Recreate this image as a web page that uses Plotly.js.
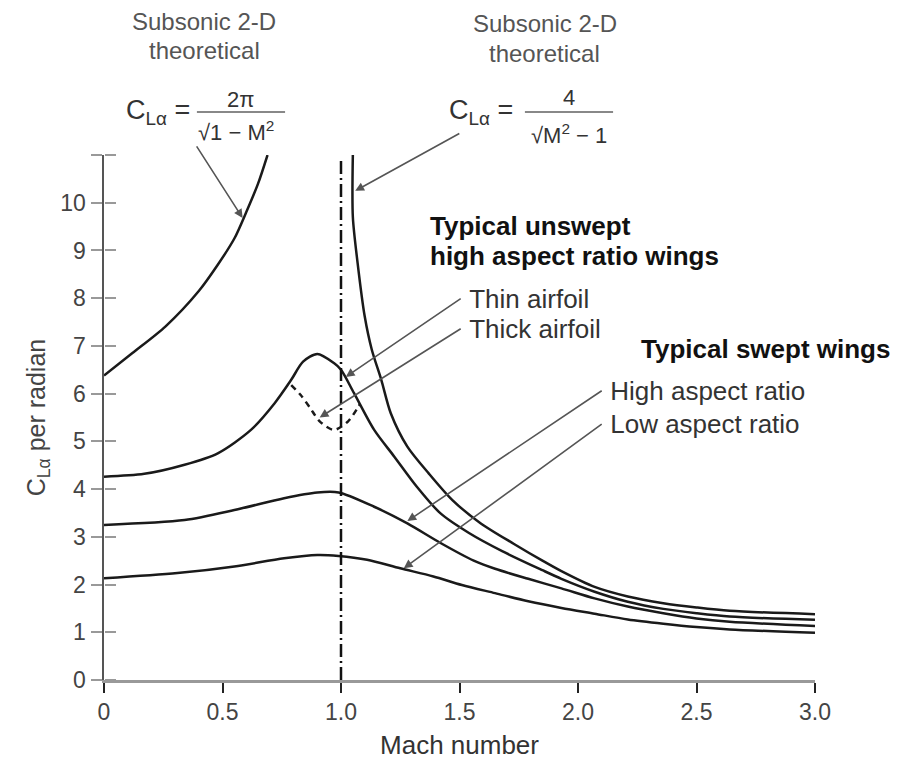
<!DOCTYPE html>
<html>
<head>
<meta charset="utf-8">
<script src="https://cdn.plot.ly/plotly-3.0.1.min.js"></script>
<style>html,body{margin:0;padding:0;background:#fff;}#chart{width:907px;height:762px;}</style>
</head>
<body>
<div id="chart"></div>
<script>
// ---- Data ----
const subTheoryM = [0, 0.12, 0.26, 0.40, 0.48, 0.55, 0.60, 0.65, 0.69];
const subTheoryC = [6.38, 6.85, 7.41, 8.15, 8.70, 9.25, 9.80, 10.40, 11.0];

const supTheoryM = [1.05, 1.05, 1.07, 1.10, 1.13, 1.17, 1.21, 1.28, 1.37, 1.47, 1.59, 1.73, 1.85, 1.93, 2.07, 2.21, 2.36, 2.50, 2.64, 3.0];
const supTheoryC = [11.0, 9.7, 8.74, 7.62, 6.92, 6.29, 5.59, 4.89, 4.33, 3.77, 3.28, 2.85, 2.50, 2.28, 1.95, 1.75, 1.61, 1.52, 1.45, 1.38];

const thinM = [0, 0.17, 0.34, 0.48, 0.62, 0.72, 0.79, 0.84, 0.90, 0.97, 1.0, 1.055, 1.14, 1.225, 1.32, 1.42, 1.54, 1.68, 1.85, 1.93, 2.07, 2.21, 2.36, 2.50, 2.64, 3.0];
const thinC = [4.26, 4.32, 4.51, 4.75, 5.24, 5.8, 6.29, 6.67, 6.83, 6.64, 6.5, 6.01, 5.24, 4.68, 4.05, 3.49, 3.08, 2.70, 2.30, 2.12, 1.85, 1.64, 1.49, 1.40, 1.33, 1.26];

const thickM = [0.79, 0.83, 0.87, 0.91, 0.97, 1.03, 1.07, 1.08];
const thickC = [6.18, 5.97, 5.70, 5.42, 5.24, 5.42, 5.70, 5.78];

const sweptHighM = [0, 0.34, 0.55, 0.76, 0.90, 0.99, 1.14, 1.28, 1.42, 1.56, 1.65, 1.79, 1.93, 2.07, 2.21, 2.36, 2.50, 2.64, 3.0];
const sweptHighC = [3.25, 3.35, 3.56, 3.81, 3.93, 3.93, 3.63, 3.28, 2.87, 2.50, 2.33, 2.12, 1.92, 1.71, 1.54, 1.40, 1.29, 1.22, 1.13];

const sweptLowM = [0, 0.31, 0.55, 0.76, 0.90, 0.99, 1.11, 1.25, 1.39, 1.51, 1.65, 1.79, 1.93, 2.07, 2.21, 2.36, 2.50, 2.64, 3.0];
const sweptLowC = [2.13, 2.24, 2.38, 2.55, 2.62, 2.60, 2.52, 2.34, 2.17, 1.99, 1.82, 1.65, 1.51, 1.39, 1.27, 1.18, 1.11, 1.06, 0.99];

const machLineM = [1.0, 1.0];
const machLineC = [0, 10.9];

const xTickVals = [0, 0.5, 1.0, 1.5, 2.0, 2.5, 3.0];
const xTickText = ['0', '0.5', '1.0', '1.5', '2.0', '2.5', '3.0'];
const yTickVals = [0, 1, 2, 3, 4, 5, 6, 7, 8, 9, 10, 11];
const yTickText = ['0', '1', '2', '3', '4', '5', '6', '7', '8', '9', '10', ''];

// ---- Styles ----
const FONT = 'Liberation Sans, Arial, sans-serif';
const lineStyle = {color: '#1a1a1a', width: 2.5, shape: 'spline', smoothing: 0.8};

function curve(x, y, extra) {
  return Object.assign({x: x, y: y, mode: 'lines', type: 'scatter', hoverinfo: 'skip',
    line: Object.assign({}, lineStyle), showlegend: false, cliponaxis: false}, extra || {});
}

const traces = [
  curve(subTheoryM, subTheoryC),
  curve(supTheoryM, supTheoryC),
  curve(thinM, thinC),
  curve(thickM, thickC, {line: Object.assign({}, lineStyle, {dash: '6px,5px'})}),
  curve(sweptHighM, sweptHighC),
  curve(sweptLowM, sweptLowC),
  curve(machLineM, machLineC, {line: {color: '#111', width: 2.5, dash: '13px,4px,2px,4px'}}),
  // carrier for the inner half of the y ticks
  {x: machLineM, y: machLineC, yaxis: 'y2', xaxis: 'x', type: 'scatter', mode: 'lines',
   line: {width: 0.1, color: 'rgba(0,0,0,0)'}, hoverinfo: 'skip', showlegend: false}
];

// label with its pointer: text box anchored at the arrow tail
function pointer(text, hx, hy, tx, ty, font, xa, ya) {
  return {x: hx, y: hy, ax: tx, ay: ty, axref: 'x', ayref: 'y', xref: 'x', yref: 'y',
    text: text, showarrow: true, arrowhead: 2, arrowsize: 1.1, arrowwidth: 1.6,
    arrowcolor: '#555', standoff: 0, startstandoff: 0,
    xanchor: xa || 'left', yanchor: ya || 'middle', borderpad: 0, font: font};
}
function labelAnn(x, y, text, font) {
  return {x: x, y: y, xref: 'x', yref: 'y', text: text, showarrow: false,
    xanchor: 'left', yanchor: 'middle', font: font};
}
function topText(x, y, text, size, anchor, color) {
  return {x: x, y: y, xref: 'x', yref: 'paper', text: text, showarrow: false,
    xanchor: anchor, yanchor: 'middle', font: {family: FONT, size: size, color: color}};
}
const BOLD = {family: FONT, size: 26, color: '#111'};
const REG = {family: FONT, size: 26, color: '#333'};
const FRAC = {family: FONT, size: 22, color: '#333'};
const SP = '\u00a0';

const annotations = [
  // top-left block
  topText(0.423, 1.255, 'Subsonic 2-D', 24, 'center', '#555'),
  topText(0.423, 1.200, 'theoretical', 24, 'center', '#555'),
  topText(0.372, 1.082, 'C<sub>Lα</sub> =', 27, 'right', '#333'),
  topText(0.578, 1.105, '2π', 22, 'center', '#333'),
  pointer('√1 − M<sup>2</sup>', 0.585, 9.68, 0.391, 11.18, FRAC, 'left', 'bottom'),
  // top-right block
  topText(1.859, 1.250, 'Subsonic 2-D', 24, 'center', '#555'),
  topText(1.859, 1.194, 'theoretical', 24, 'center', '#555'),
  topText(1.734, 1.082, 'C<sub>Lα</sub> =', 27, 'right', '#333'),
  pointer(SP, 1.06, 10.25, 1.514, 11.49, FRAC, 'center', 'middle'),
  topText(1.962, 1.110, '4', 22, 'center', '#333'),
  topText(1.962, 1.040, '√M<sup>2</sup> − 1', 22, 'center', '#333'),
  // group labels
  labelAnn(1.367, 9.52, '<b>Typical unswept</b>', BOLD),
  labelAnn(1.367, 8.89, '<b>high aspect ratio wings</b>', BOLD),
  labelAnn(2.257, 6.94, '<b>Typical swept wings</b>', BOLD),
  // labels with arrows
  pointer(SP + 'Thin airfoil', 1.02, 6.35, 1.505, 7.99, REG),
  pointer(SP + 'Thick airfoil', 0.91, 5.5, 1.505, 7.36, REG),
  pointer(SP + 'High aspect ratio', 1.28, 3.33, 2.10, 6.06, REG),
  pointer(SP + 'Low aspect ratio', 1.265, 2.34, 2.10, 5.36, REG)
];

const shapes = [
  {type: 'line', xref: 'x', yref: 'paper', x0: 0.392, x1: 0.764, y0: 1.082, y1: 1.082, line: {color: '#888', width: 2}},
  {type: 'line', xref: 'x', yref: 'paper', x0: 1.776, x1: 2.148, y0: 1.082, y1: 1.082, line: {color: '#888', width: 2}}
];

const layout = {
  width: 907, height: 762,
  margin: {l: 104, r: 92, t: 155, b: 82},
  paper_bgcolor: '#fff', plot_bgcolor: '#fff',
  showlegend: false,
  xaxis: {
    range: [0, 3.0], tickvals: xTickVals, ticktext: xTickText,
    ticks: 'outside', ticklen: 10, tickwidth: 2, tickcolor: '#222',
    showline: true, linecolor: '#999', linewidth: 2.5, showgrid: false, zeroline: false,
    tickfont: {family: FONT, size: 23, color: '#444'},
    title: {text: 'Mach number', font: {family: FONT, size: 26, color: '#333'}, standoff: 12}
  },
  yaxis: {
    range: [0, 11], tickvals: yTickVals, ticktext: yTickText,
    ticks: 'outside', ticklen: 11, tickwidth: 2, tickcolor: '#999',
    showline: true, linecolor: '#555', linewidth: 2.5, showgrid: false, zeroline: false,
    tickfont: {family: FONT, size: 23, color: '#444'},
    title: {text: 'C<sub>Lα</sub> per radian', font: {family: FONT, size: 25, color: '#444'}, standoff: 8}
  },
  yaxis2: {
    overlaying: 'y', anchor: 'free', position: 0, side: 'right', range: [0, 11],
    tickmode: 'array', tickvals: yTickVals,
    ticks: 'outside', ticklen: 11, tickwidth: 2, tickcolor: '#999',
    showticklabels: false, showline: false, showgrid: false, zeroline: false
  },
  annotations: annotations,
  shapes: shapes
};

Plotly.newPlot('chart', traces, layout, {displayModeBar: false, staticPlot: true});
</script>
</body>
</html>
